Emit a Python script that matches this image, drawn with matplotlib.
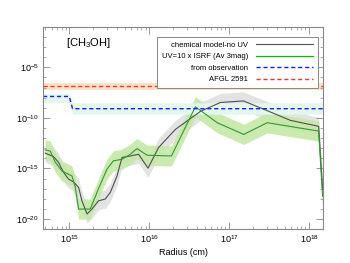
import matplotlib

matplotlib.use("Agg")
import matplotlib.pyplot as plt
import numpy as np
from matplotlib.ticker import FixedLocator, FuncFormatter, LogLocator, NullFormatter

plt.rcParams["font.family"] = ["Liberation Sans", "DejaVu Sans"]
plt.rcParams["mathtext.fontset"] = "custom"
plt.rcParams["mathtext.rm"] = "Liberation Sans"
plt.rcParams["mathtext.it"] = "Liberation Sans:italic"

# chemical model without UV (black + grey envelope)
radius_nouv = [5.0e14, 6.35e14, 7.35e14, 8.5e14, 9.8e14, 1.13e15, 1.31e15, 1.44e15,
               1.67e15, 1.92e15, 2.33e15, 2.82e15, 3.27e15, 3.96e15, 4.57e15, 5.81e15,
               7.38e15, 9.68e15, 1.31e16, 2.13e16, 4.39e16, 7.8e16, 1.51e17, 2.86e17,
               5.87e17, 1.32e18, 1.48e18]
abund_nouv = [3.2e-14, 1.5e-14, 3.8e-15, 4.0e-16, 8.7e-17, 4.7e-17, 1.3e-17, 6.3e-19,
              3.1e-20, 9.5e-20, 6.3e-19, 9.3e-19, 4.3e-18, 1.8e-16, 1.2e-14, 1.7e-14,
              2.5e-14, 1.05e-15, 1.15e-13, 7.2e-12, 4.4e-10, 3.3e-9, 4.7e-9, 6.0e-10,
              5.6e-11, 1.45e-11, 8.9e-18]
spread_nouv = 0.9  # dex

# model with UV = 10 x ISRF (green + light green envelope)
radius_uv = [5.0e14, 5.78e14, 6.68e14, 8.1e14, 1.08e15, 1.19e15, 1.31e15, 1.5e15,
             1.83e15, 2.31e15, 2.96e15, 3.56e15, 4.57e15, 5.81e15, 7.05e15, 9.42e15,
             1.9e16, 3.79e16, 7.1e16, 1.53e17, 3.0e17, 1.32e18, 1.48e18]
abund_uv = [6.6e-14, 5.2e-14, 4.1e-15, 5.6e-16, 1.8e-16, 1.4e-17, 9.5e-20, 9.5e-20,
            9.5e-20, 8.9e-18, 8.3e-16, 5.5e-15, 8.1e-15, 2.5e-14, 9.1e-14, 2.0e-14,
            1.7e-14, 1.25e-9, 3.3e-11, 2.3e-12, 3.3e-11, 4.9e-12, 1.8e-18]
spread_uv = 1.0  # dex

# observed abundance (step) and AFGL 2591 reference
obs_radius = [4.7e14, 1.0e15, 1.1e15, 1.5e18]
obs_abund = [1.3e-8, 1.3e-8, 8.0e-10, 8.0e-10]
obs_low = [3.3e-9, 3.3e-9, 2.3e-10, 2.3e-10]
obs_high = [2.6e-8, 2.6e-8, 3.1e-9, 3.1e-9]
afgl_abund = 1.26e-7
afgl_low, afgl_high = 5.9e-8, 2.5e-7

fig = plt.figure(figsize=(3.5, 2.63), dpi=100)
ax = fig.add_axes([0.123, 0.129, 0.800, 0.769])

x = np.array(radius_nouv)
y = np.array(abund_nouv)
ax.fill_between(x, y / 10**spread_nouv, y * 10**spread_nouv, color="#e3e3e3", lw=0)
x2 = np.array(radius_uv)
y2 = np.array(abund_uv)
ax.fill_between(x2, y2 / 10**spread_uv, y2 * 10**spread_uv, color="#c5e8a8", lw=0, alpha=0.9)

ax.fill_between(obs_radius, obs_low, obs_high, color="#e2f8ef", lw=0)
ax.axhspan(afgl_low, afgl_high, color="#fde3c4", lw=0)

ax.plot(x, y, color="#505050", lw=0.8, label="chemical model-no UV")
ax.plot(x2, y2, color="#2f9a2f", lw=0.8, label="UV=10 x ISRF (Av 3mag)")
ax.plot(obs_radius, obs_abund, color="#1a1aff", lw=1.0, ls=(0, (3, 2)), label="from observation")
ax.axhline(afgl_abund, color="#ff3030", lw=1.0, ls=(0, (3, 2)), label="AFGL 2591")

ax.set_xscale("log")
ax.set_yscale("log")
ax.set_xlim(4.7e14, 1.5e18)
ax.set_ylim(1e-21, 1e-1)

ax.xaxis.set_major_locator(LogLocator(base=10, numticks=10))
ax.xaxis.set_minor_locator(LogLocator(base=10, subs=np.arange(2, 10), numticks=20))
ax.xaxis.set_minor_formatter(NullFormatter())
ax.yaxis.set_major_locator(FixedLocator([1e-20, 1e-15, 1e-10, 1e-5]))
ax.yaxis.set_minor_locator(FixedLocator([10.0**k for k in range(-21, 0)]))
ax.yaxis.set_minor_formatter(NullFormatter())
fmt = FuncFormatter(lambda v, p: r"$10^{%d}$" % round(np.log10(v)))
ax.xaxis.set_major_formatter(fmt)
ax.yaxis.set_major_formatter(fmt)

ax.tick_params(which="both", direction="in", top=True, right=True, color="#888888",
               labelsize=6.5, pad=3)
ax.tick_params(which="major", length=5, width=0.6)
ax.tick_params(which="minor", length=2.5, width=0.5)
for s in ax.spines.values():
    s.set_color("#888888")
    s.set_linewidth(0.8)

ax.set_xlabel("Radius (cm)", fontsize=6.5, labelpad=2)
ax.text(0.164, 0.92, r"[CH$_3$OH]", transform=ax.transAxes, fontsize=8,
        ha="center", va="center")

leg_handles, leg_labels = ax.get_legend_handles_labels()
green_handle = plt.Line2D([], [], color="#00c000", lw=0.9)
leg_handles[1] = green_handle
leg = ax.legend(leg_handles, leg_labels, loc="upper right", bbox_to_anchor=(0.981, 0.951),
                borderaxespad=0, fontsize=5.5, markerfirst=False, handlelength=7.5,
                fancybox=False, edgecolor="#888888", framealpha=1, labelspacing=0.55,
                borderpad=0.6, handletextpad=1.0)
leg.get_frame().set_linewidth(0.7)
for t in leg.get_texts():
    t.set_ha("right")

fig.savefig("out.png", dpi=100)
